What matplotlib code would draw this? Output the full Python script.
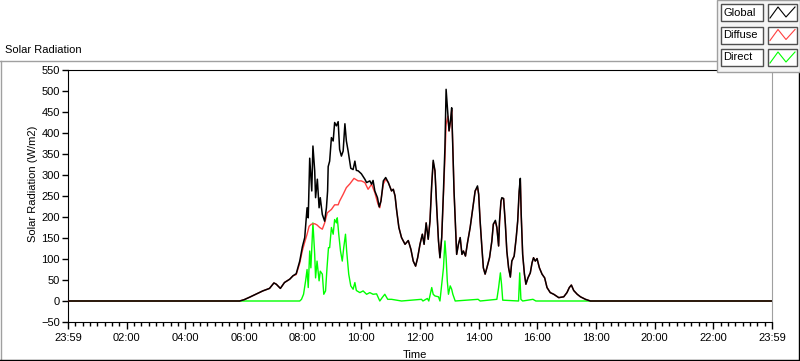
import matplotlib
matplotlib.use("Agg")
import matplotlib.pyplot as plt
from matplotlib.patches import Rectangle
from matplotlib.lines import Line2D
from matplotlib.ticker import MultipleLocator
import numpy as np

plt.rcParams["font.family"] = ["Liberation Sans", "DejaVu Sans"]

# time in hours since midnight, values in W/m2
global_hours = [0.0, 5.85, 6.0, 6.19, 6.4, 6.64, 6.87, 7.02, 7.10, 7.24, 7.38, 7.56, 7.67, 7.78,
                7.90, 7.99, 8.07, 8.15, 8.19, 8.24, 8.31, 8.35, 8.41, 8.44, 8.50, 8.56, 8.60,
                8.67, 8.75, 8.81, 8.85, 8.87, 8.92, 8.98, 9.04, 9.09, 9.15, 9.21, 9.26, 9.32,
                9.38, 9.44, 9.49, 9.55, 9.64, 9.72, 9.78, 9.83, 9.89, 10.0, 10.12, 10.18, 10.29,
                10.35, 10.40, 10.46, 10.55, 10.61, 10.67, 10.75, 10.83, 10.92, 11.03, 11.09,
                11.15, 11.20, 11.28, 11.37, 11.49, 11.60, 11.69, 11.77, 11.85, 11.92, 12.00,
                12.08, 12.14, 12.21, 12.28, 12.34, 12.40, 12.45, 12.51, 12.57, 12.63, 12.68,
                12.74, 12.80, 12.85, 12.89, 12.95, 12.99, 13.05, 13.08, 13.12, 13.16, 13.21,
                13.25, 13.31, 13.37, 13.43, 13.48, 13.55, 13.62, 13.71, 13.80, 13.88, 13.96,
                14.00, 14.05, 14.11, 14.16, 14.22, 14.28, 14.37, 14.45, 14.50, 14.57, 14.62,
                14.68, 14.71, 14.76, 14.79, 14.85, 14.91, 14.96, 15.02, 15.08, 15.13, 15.21,
                15.28, 15.33, 15.38, 15.42, 15.45, 15.50, 15.56, 15.61, 15.68, 15.76, 15.82,
                15.87, 15.93, 15.99, 16.07, 16.16, 16.25, 16.33, 16.44, 16.56, 16.73, 16.90,
                17.01, 17.09, 17.16, 17.24, 17.36, 17.47, 17.64, 17.81, 24.0]
global_vals = [0, 0, 3, 9, 16, 24, 30, 43, 40, 30, 44, 52, 60, 65,
               95, 129, 151, 222, 198, 340, 262, 369, 310, 246, 290, 222, 246,
               206, 190, 222, 262, 320, 333, 389, 381, 425, 417, 427, 361, 345,
               357, 422, 381, 357, 316, 313, 333, 311, 310, 303, 290, 282, 286,
               278, 287, 262, 246, 224, 238, 286, 294, 282, 262, 266,
               250, 218, 175, 151, 135, 144, 123, 95, 83, 103, 135,
               159, 135, 186, 147, 190, 278, 335, 310, 222, 143, 103,
               151, 262, 365, 504, 444, 405, 437, 460, 365, 262, 175,
               111, 135, 151, 111, 119, 107, 139, 175, 222, 262, 274,
               254, 190, 127, 79, 64, 79, 103, 143, 183, 192, 175,
               131, 190, 238, 246, 244, 183, 119, 79, 57, 95, 107,
               151, 190, 262, 292, 206, 111, 64, 40, 55, 67, 91,
               103, 95, 101, 79, 64, 55, 32, 20, 16, 8, 10,
               20, 32, 38, 25, 16, 10, 4, 0, 0]

diffuse_hours = [0.0, 5.85, 6.0, 6.19, 6.4, 6.64, 6.87, 7.02, 7.10, 7.24, 7.38, 7.56, 7.67, 7.78,
                 7.90, 7.99, 8.07, 8.15, 8.22, 8.30, 8.41, 8.49, 8.58, 8.67, 8.75, 8.84, 8.98,
                 9.09, 9.21, 9.26, 9.38, 9.49, 9.61, 9.75, 9.89, 10.0, 10.12, 10.23, 10.35,
                 10.46, 10.57, 10.63, 10.75, 10.83, 10.92, 11.03, 11.09,
                 11.15, 11.20, 11.28, 11.37, 11.49, 11.60, 11.69, 11.77, 11.85, 11.92, 12.00,
                 12.08, 12.14, 12.21, 12.28, 12.34, 12.40, 12.45, 12.51, 12.57, 12.63, 12.68,
                 12.74, 12.80, 12.85, 12.89, 12.95, 12.99, 13.05, 13.08, 13.12, 13.16, 13.21,
                 13.25, 13.31, 13.37, 13.43, 13.48, 13.55, 13.62, 13.71, 13.80, 13.88, 13.96,
                 14.00, 14.05, 14.11, 14.16, 14.22, 14.28, 14.37, 14.45, 14.50, 14.57, 14.62,
                 14.68, 14.71, 14.76, 14.79, 14.85, 14.91, 14.96, 15.02, 15.08, 15.13, 15.21,
                 15.28, 15.33, 15.38, 15.42, 15.45, 15.50, 15.56, 15.61, 15.68, 15.76, 15.82,
                 15.87, 15.93, 15.99, 16.07, 16.16, 16.25, 16.33, 16.44, 16.56, 16.73, 16.90,
                 17.01, 17.09, 17.16, 17.24, 17.36, 17.47, 17.64, 17.81, 24.0]
diffuse_vals = [0, 0, 3, 9, 16, 24, 30, 43, 40, 30, 44, 52, 60, 63,
                90, 120, 140, 159, 178, 183, 184, 181, 175, 171, 186, 210, 218,
                229, 229, 238, 254, 270, 279, 292, 286, 286, 282, 266, 278,
                258, 230, 222, 278, 290, 282, 262, 266,
                250, 218, 175, 151, 135, 144, 123, 95, 83, 103, 135,
                159, 135, 186, 147, 190, 278, 330, 310, 222, 143, 103,
                151, 255, 340, 420, 440, 405, 430, 455, 365, 262, 175,
                111, 135, 151, 111, 119, 107, 139, 175, 222, 262, 270,
                254, 190, 127, 79, 64, 79, 103, 143, 183, 188, 175,
                131, 185, 235, 244, 244, 183, 119, 79, 57, 95, 107,
                151, 190, 255, 288, 206, 111, 64, 40, 55, 67, 91,
                103, 95, 101, 79, 64, 55, 32, 20, 16, 8, 10,
                20, 32, 38, 25, 16, 10, 4, 0, 0]

direct_hours = [0.0, 7.90, 7.96, 8.03, 8.10, 8.15, 8.19, 8.24, 8.28, 8.35, 8.41, 8.44, 8.49,
                8.56, 8.60, 8.67, 8.72, 8.78, 8.83, 8.88, 8.92, 8.98, 9.04, 9.09, 9.15, 9.18,
                9.23, 9.29, 9.35, 9.40, 9.46, 9.50, 9.57, 9.64, 9.72, 9.78, 9.83, 9.95, 10.06,
                10.18, 10.29, 10.40, 10.52, 10.63, 10.71, 10.80, 10.90, 11.03, 11.20, 11.37,
                12.05, 12.10, 12.25, 12.30, 12.40, 12.45, 12.51, 12.63, 12.68, 12.80, 12.85,
                12.89, 12.93, 12.97, 13.03, 13.08, 13.12, 13.20, 13.98, 14.05, 14.62, 14.68,
                14.74, 14.78, 14.82, 15.36, 15.40, 15.44, 15.50, 15.85, 15.95, 24.0]
direct_vals = [0, 0, 4, 16, 48, 75, 32, 119, 79, 186, 111, 55, 95,
               48, 71, 64, 16, 24, 79, 127, 127, 175, 159, 194, 186, 198,
               159, 119, 95, 127, 159, 119, 64, 36, 28, 44, 25, 20, 24,
               16, 20, 16, 17, 0, 8, 16, 4, 4, 2, 0,
               4, 0, 6, 0, 32, 16, 12, 10, 0, 79, 143,
               103, 48, 16, 36, 28, 16, 0, 4, 0, 4, 32,
               67, 40, 2, 0, 67, 4, 0, 4, 0, 0]

tick_hours = list(range(0, 25, 2))
tick_labels = ["23:59", "02:00", "04:00", "06:00", "08:00", "10:00", "12:00",
               "14:00", "16:00", "18:00", "20:00", "22:00", "23:59"]

W, H = 800, 361
fig = plt.figure(figsize=(W / 100, H / 100), dpi=100)
fig.patch.set_facecolor("white")


def fx(px):
    return px / W


def fy(py):
    return 1 - py / H


ax = fig.add_axes([fx(68), fy(322), (772 - 68) / W, (322 - 70) / H])
ax.plot(direct_hours, direct_vals, color="#00ff00", lw=1.0, zorder=2)
ax.plot(diffuse_hours, diffuse_vals, color="#ff4040", lw=1.0, zorder=3)
ax.plot(global_hours, global_vals, color="black", lw=1.1, zorder=4)

ax.set_xlim(0, 24)
ax.set_ylim(-50, 550)
ax.set_xticks(tick_hours)
ax.set_xticklabels(tick_labels)
ax.xaxis.set_minor_locator(MultipleLocator(0.25))
ax.yaxis.set_major_locator(MultipleLocator(50))
ax.tick_params(axis="both", labelsize=8, colors="black", width=1)
ax.tick_params(axis="x", which="major", length=5, pad=3)
ax.tick_params(axis="x", which="minor", length=3, width=1)
ax.tick_params(axis="y", which="major", length=4, pad=2)

for side in ["left", "bottom", "top"]:
    ax.spines[side].set_color("black")
ax.spines["right"].set_color("#a0a0a0")

ax.set_ylabel("Solar Radiation (W/m2)", fontsize=8)
ax.yaxis.set_label_coords(-0.043, 0.55)
ax.set_xlabel("Time", fontsize=8)
ax.xaxis.set_label_coords(0.493, -0.11)

fig.text(fx(5), fy(50), "Solar Radiation", fontsize=8, ha="left", va="center")

# outer frame
fig.add_artist(Line2D([fx(0), fx(717)], [fy(61), fy(61)], color="#a0a0a0", lw=1))
fig.add_artist(Line2D([fx(1), fx(1)], [fy(61), fy(360)], color="#a0a0a0", lw=1))
fig.add_artist(Line2D([fx(0), fx(800)], [fy(360), fy(360)], color="black", lw=1))
fig.add_artist(Line2D([fx(799), fx(799)], [fy(72), fy(360)], color="black", lw=1))

# legend panel
fig.add_artist(Rectangle((fx(717), fy(72)), fx(83), 72 / H, facecolor="#f4f4f4",
                         edgecolor="#a0a0a0", lw=1, zorder=5))
legend_names = ["Global", "Diffuse", "Direct"]
legend_colors = ["black", "#ff4040", "#00ff00"]
row_tops = [4, 26.5, 49]
row_h = 17
for name, col, top in zip(legend_names, legend_colors, row_tops):
    fig.add_artist(Rectangle((fx(721), fy(top + row_h)), fx(42), row_h / H,
                             facecolor="white", edgecolor="#505050", lw=1, zorder=6))
    fig.text(fx(723), fy(top + row_h / 2), name, fontsize=8, ha="left", va="center", zorder=7)
    fig.add_artist(Rectangle((fx(768), fy(top + row_h)), fx(29), row_h / H,
                             facecolor="white", edgecolor="#505050", lw=1, zorder=6))
    zx = [770, 778, 786, 795]
    zy = [top + 14, top + 3, top + 13, top + 3]
    fig.add_artist(Line2D([fx(v) for v in zx], [fy(v) for v in zy], color=col, lw=0.8, zorder=7))

fig.savefig("out.png", dpi=100)
